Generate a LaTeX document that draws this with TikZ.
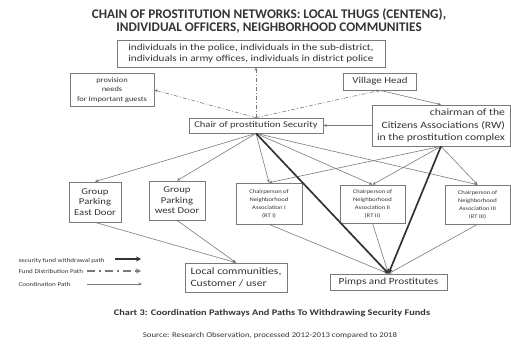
\documentclass[tikz,border=0pt]{standalone}
\usepackage{fontspec}
\setmainfont[FakeStretch = 1.2]{Carlito}
\newfontfamily\titlefont{Carlito}
\usetikzlibrary{arrows.meta}
\usetikzlibrary{positioning}
\definecolor{ink}{HTML}{333333}
\definecolor{edge}{HTML}{7A7A7A}
\tikzset{box/.style = {draw = edge, fill = white, text = ink, align = center, inner sep = 1pt, line width = 0.7pt}}
\tikzset{coordpath/.style = {draw = edge, line width = 0.6pt, -{Stealth[length = 3.5pt, width = 3pt]}}}
\tikzset{fundpath/.style = {draw = edge, line width = 0.6pt, dash pattern = on 4pt off 2pt on 1pt off 2pt, -{Stealth[length = 3.5pt, width = 3pt]}}}
\tikzset{withdrawpath/.style = {draw = black!80, line width = 1.7pt, -{Stealth[length = 5pt, width = 5pt]}}}

\begin{document}
\begin{tikzpicture}[x = 1pt, y = -1pt]
      \useasboundingbox (0, 0) rectangle (511, 343);

      % title
      \node [text = ink, font = \titlefont\fontsize{13.2}{13}\selectfont\bfseries, align = center] (title) at (269, 21)
        {CHAIN OF PROSTITUTION NETWORKS: LOCAL THUGS (CENTENG),\\INDIVIDUAL OFFICERS, NEIGHBORHOOD COMMUNITIES};

      % upper level
      \node [box, minimum width = 268, minimum height = 27, font = \fontsize{9.3}{11.5}\selectfont] (police) at (251, 53.5)
        {individuals in the police, individuals in the sub-district,\\individuals in army offices, individuals in district police};
      \node [box, minimum width = 84, minimum height = 33, font = \fontsize{7}{9.5}\selectfont] (guests) at (112, 90)
        {provision\\needs\\for Important guests};
      \node [box, minimum width = 73, minimum height = 17, font = \fontsize{9.1}{11}\selectfont] (village) at (380, 81.5) {Village Head};
      \node [box, minimum width = 134, minimum height = 15, font = \fontsize{8.8}{11}\selectfont] (chair) at (256, 125.5) {Chair of prostitution Security};
      \node [box, minimum width = 138, minimum height = 41, align = right, font = \fontsize{9.7}{12.5}\selectfont] (rw) at (441, 125.5)
        {chairman of the\\Citizens Associations (RW)\\in the prostitution complex};

      % lower level
      \node [box, minimum width = 52, minimum height = 40, font = \fontsize{8.9}{10.5}\selectfont] (east) at (95, 202) {Group\\Parking\\East Door};
      \node [box, minimum width = 56, minimum height = 39, font = \fontsize{8.9}{10.5}\selectfont] (west) at (177, 200.5) {Group\\Parking\\west Door};
      \node [box, minimum width = 66, minimum height = 41, font = \fontsize{5.5}{8}\selectfont] (rtone) at (269, 203.5)
        {Chairperson of\\Neighborhood\\Association I\\(RT I)};
      \node [box, minimum width = 65, minimum height = 38, font = \fontsize{5.5}{8}\selectfont] (rttwo) at (372.5, 204)
        {Chairperson of\\Neighborhood\\Association II\\(RT II)};
      \node [box, minimum width = 65, minimum height = 39, font = \fontsize{5.5}{8}\selectfont] (rtthree) at (477.5, 204.5)
        {Chairperson of\\Neighborhood\\Association III\\(RT III)};
      \node [box, minimum width = 102, minimum height = 29, align = left, font = \fontsize{9.7}{12}\selectfont] (local) at (236, 277.5)
        {Local communities,\\Customer / user};
      \node [box, minimum width = 117, minimum height = 16, font = \fontsize{9.4}{11}\selectfont] (pimps) at (388.5, 282) {Pimps and Prostitutes};

      % fund distribution
      \draw [fundpath] (chair.north) -- (chair.north |- police.south);
      \draw [fundpath] (chair.north) -- (guests.east);
      \draw [fundpath] (chair.north) -- (village.south);

      % coordination
      \draw [coordpath] (village.south) -- (rw.north);
      \draw [coordpath] (rw.west) -- (chair.east);
      \foreach \n in {east, west, rtone, rttwo, rtthree}
        \draw [coordpath] (chair.south) -- (\n.north);
      \foreach \n in {rtone, rttwo, rtthree}
        \draw [coordpath] (rw.south) -- (\n.north);
      \draw [coordpath] (east.south) -- (local.north);
      \draw [coordpath] (west.south) -- (local.north);
      \foreach \n in {rtone, rttwo, rtthree}
        \draw [coordpath] (\n.south) -- (pimps.north);

      % withdrawal
      \draw [withdrawpath] (chair.south) -- (pimps.north);
      \draw [withdrawpath] (rw.south) -- (pimps.north);

      % legend
      \node [text = ink, anchor = west, font = \fontsize{5.9}{6}\selectfont] (lgone) at (15, 260.5) {security fund withdrawal path};
      \node [text = ink, anchor = west, font = \fontsize{5.9}{6}\selectfont] (lgtwo) at (15, 271.5) {Fund Distribution Path};
      \node [text = ink, anchor = west, font = \fontsize{5.9}{6}\selectfont] (lgthree) at (15, 284.5) {Coordination Path};
      \coordinate (wa) at (115, 259);
      \coordinate (wb) at (141, 259);
      \coordinate (fa) at (87, 271);
      \coordinate (fb) at (141, 271);
      \coordinate (ca) at (87, 284);
      \coordinate (cb) at (142, 284);
      \draw [withdrawpath, line width = 1.2pt] (wa) -- (wb);
      \draw [fundpath, line width = 1.1pt, dash pattern = on 8pt off 4pt on 2pt off 4pt, -{Stealth[length = 5pt, width = 5pt]}] (fa) -- (fb);
      \draw [coordpath] (ca) -- (cb);

      % caption
      \node [text = ink, font = \fontsize{8.6}{10}\selectfont\bfseries] (caption) at (272, 313.5)
        {Chart 3: Coordination Pathways And Paths To Withdrawing Security Funds};
      \node [text = ink, font = \fontsize{7.3}{8}\selectfont] (source) at (270, 336)
        {Source: Research Observation, processed 2012-2013 compared to 2018};
    \end{tikzpicture}
\end{document}
